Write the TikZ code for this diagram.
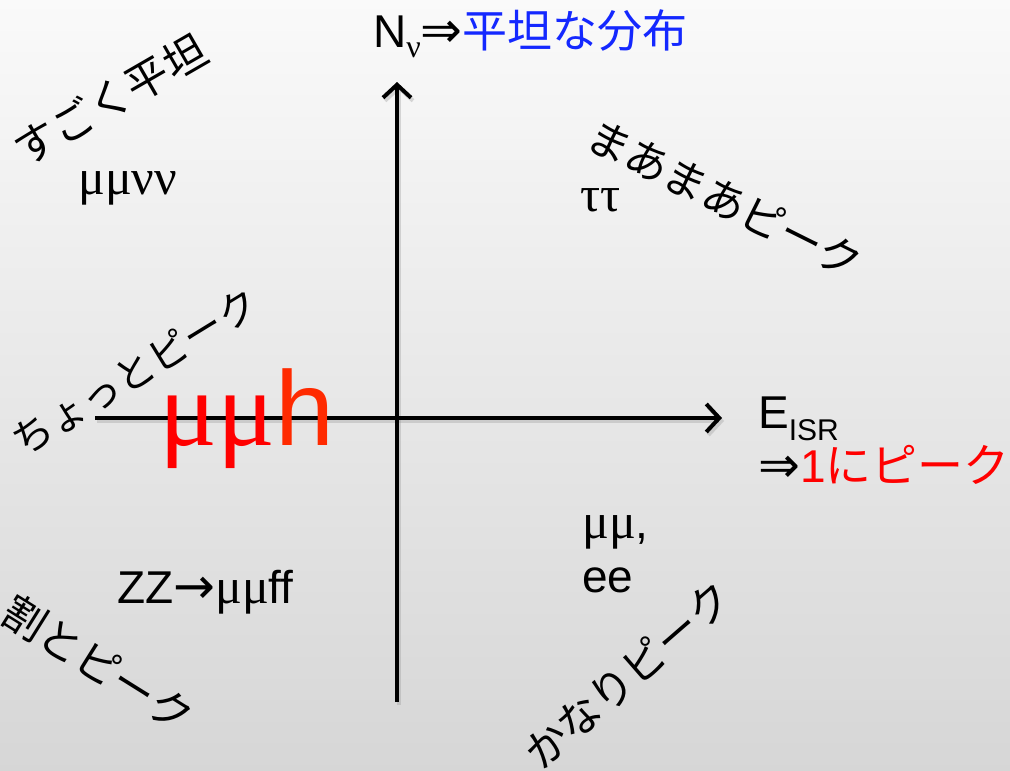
\documentclass[tikz,border=0pt]{standalone}
\usepackage{fontspec}
\setmainfont{Liberation Sans}
\newfontfamily\jpfont{Noto Sans CJK JP}
\newfontfamily\grfont{Liberation Serif}
\newfontfamily\symfont{DejaVu Sans}
\usetikzlibrary{arrows.meta, positioning}
\definecolor{flatblue}{RGB}{20,40,255}
\definecolor{peakred}{RGB}{255,0,0}
\definecolor{hred}{RGB}{255,42,0}
\newcommand{\bigsym}[1]{{\symfont\fontsize{50}{52}\selectfont #1}}

\begin{document}
\begin{tikzpicture}[
    x=1pt, y=-1pt,
    axis/.style={line width=4pt, -{Straight Barb[length=13pt, width=28pt]}},
    axshadow/.style={axis, black!40, opacity=0.35},
    jp/.style={font=\jpfont\fontsize{43}{50}\selectfont, inner sep=0pt},
    lbl/.style={font=\fontsize{46}{52}\selectfont, inner sep=0pt},
    greek/.style={font=\grfont\fontsize{50}{54}\selectfont, inner sep=0pt}
]

% background
\shade[top color=black!2, bottom color=black!16] (0,0) rectangle (1010,771);
\useasboundingbox (0,0) rectangle (1010,771);

% axes
\coordinate (origin) at (397,418);
\coordinate (ybase) at (397,702);
\coordinate (ytip) at (397,82);
\coordinate (xbase) at (95,418);
\coordinate (xtip) at (722,418);
\draw[axshadow] ([shift={(2,3)}]ybase) -- ([shift={(2,3)}]ytip);
\draw[axshadow] ([shift={(2,3)}]xbase) -- ([shift={(2,3)}]xtip);
\draw[axis] (ybase) -- (ytip);
\draw[axis] (xbase) -- (xtip);

% axis labels
\node[lbl, anchor=base west] (nnu) at (373,47) {N\raisebox{-10pt}{\grfont\fontsize{32}{32}\selectfont ν}\bigsym{⇒}\textcolor{flatblue}{\jpfont\fontsize{45}{50}\selectfont 平坦な分布}};
\node[lbl, anchor=base west] (eisr) at (758,428) {E\raisebox{-12pt}{\fontsize{30}{30}\selectfont ISR}};
\node[lbl, anchor=base west] (onepeak) at (758,482) {\bigsym{⇒}\textcolor{peakred}{1\jpfont にピーク}};

% quadrant labels
\node[jp, rotate=30] (flat) at (110,100) {すごく平坦};
\node[greek, anchor=base west] (mmnn) at (78,194) {μμνν};
\node[jp, rotate=-26.5] (sopeak) at (725,199) {まあまあピーク};
\node[greek, anchor=base west] (tautau) at (580,211) {ττ};
\node[jp, rotate=31.5, font=\jpfont\fontsize{40}{46}\selectfont] (bitpeak) at (135,372) {ちょっとピーク};
\node[anchor=base, inner sep=0pt] (mumuh) at (247,445) {\textcolor{peakred}{\grfont\fontsize{108}{110}\selectfont μμ}\textcolor{hred}{\fontsize{106}{110}\selectfont h}};
\node[lbl, anchor=base west] (zz) at (117,603) {ZZ\bigsym{→}{\grfont\fontsize{50}{52}\selectfont μμ}ff};
\node[jp, rotate=-32] (fairpeak) at (98,664) {割とピーク};
\node[lbl, anchor=base west] (mumu) at (582,538) {{\grfont\fontsize{50}{52}\selectfont μμ},};
\node[lbl, anchor=base west] (ee) at (582,592) {ee};
\node[jp, rotate=41] (verypeak) at (628,675) {かなりピーク};

\end{tikzpicture}
\end{document}
